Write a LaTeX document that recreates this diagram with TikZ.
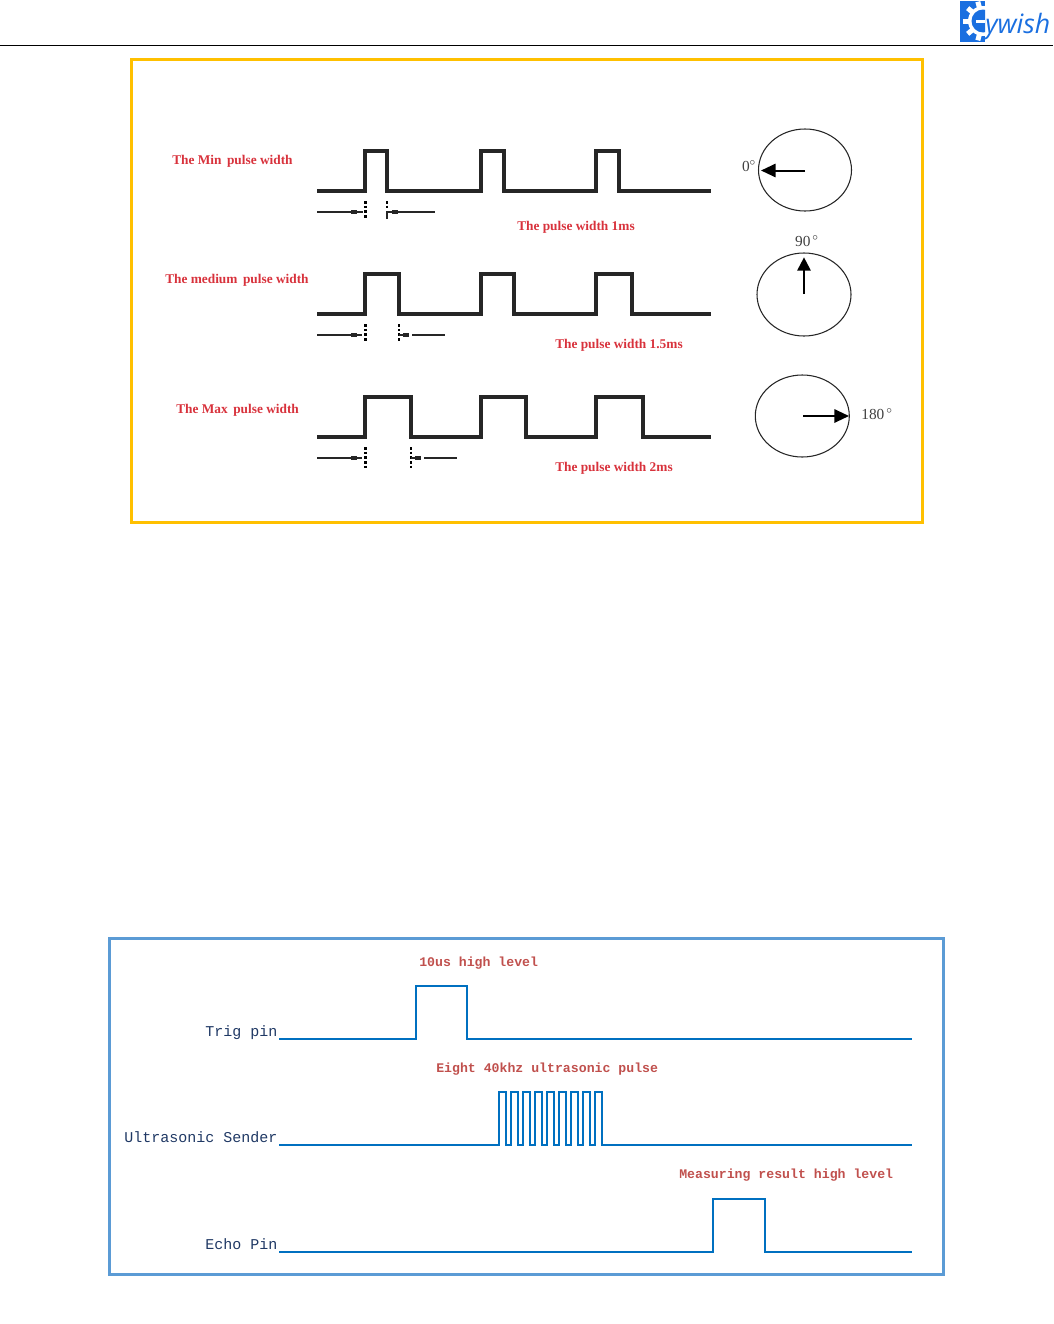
\documentclass[tikz,border=0pt]{standalone}
\usepackage{fontspec}
\usetikzlibrary{arrows.meta}
\setmainfont{Liberation Serif}
\newfontfamily\monof{Liberation Mono}
\newfontfamily\logof{Open Sans}
\definecolor{frameyellow}{HTML}{FFC000}
\definecolor{frameblue}{HTML}{5B9BD5}
\definecolor{wave}{HTML}{0070C0}
\definecolor{redlab}{HTML}{D8323C}
\definecolor{redmono}{HTML}{C0504D}
\definecolor{navy}{HTML}{1F3864}
\definecolor{logoblue}{HTML}{1A6FE0}
\tikzset{
  x=0.75pt,y=-0.75pt,
  yframe/.style={draw=frameyellow,line width=2.25pt},
  bframe/.style={draw=frameblue,line width=2.25pt},
  pulseline/.style={draw=black!85,line width=2.3pt,line join=miter},
  dimline/.style={draw=black!85,line width=1.5pt},
  dimdots/.style={draw=black,line width=2pt,dash pattern=on 2pt off 1.5pt},
  dimsq/.style={fill=black!85,minimum width=5pt,minimum height=3.6pt,inner sep=0pt},
  dial/.style={draw=black!85,line width=0.8pt},
  needle/.style={draw=black,line width=1.5pt,-{Triangle[length=11pt,width=10pt]}},
  needlegap/.style={draw=black,line width=1.5pt,-{Triangle[length=10pt,width=10pt,sep=2.5pt]}},
  sig/.style={draw=wave,line width=1.6pt,line join=miter},
  rlab/.style={anchor=base west,inner sep=0pt,text=redlab,font=\fontsize{10}{11}\selectfont\bfseries},
  rmono/.style={anchor=base west,inner sep=0pt,text=redmono,font=\monof\fontsize{9.9}{11}\selectfont\bfseries},
  nmono/.style={anchor=base west,inner sep=0pt,text=navy,font=\monof\fontsize{11.25}{12}\selectfont},
  deg/.style={inner sep=0pt,text=black!75,font=\fontsize{11.5}{12}\selectfont},
}
\begin{document}
\begin{tikzpicture}
\useasboundingbox (0,0) rectangle (1053,1324);
% header
\coordinate (hl) at (0,45); \coordinate (hr) at (1053,45);
\draw[black,line width=0.6pt] (hl) -- (hr);
% logo
\begin{scope}
\clip (960,1) rectangle (985,42);
\fill[logoblue] (960,1) rectangle (985,42);
\fill[white] (983,21) circle[radius=15];
\foreach \a in {105,140,180,220,255}
  \fill[white,rotate around={\a:(983,21)}] (996,18.5) rectangle (1003,23.5);
\fill[logoblue] (983,21) circle[radius=11.5];
\fill[white] (976,19.5) rectangle (985,22.5);
\end{scope}
\node[anchor=base west,inner sep=0pt,text=logoblue,font=\logof\itshape\fontsize{20}{22}\selectfont] (logo) at (985,33) {ywish};
% frames
\draw[yframe] (131,59) rectangle (922,522);
\draw[bframe] (109,938) rectangle (943,1274);
% row 1
\draw[pulseline] (317,191) -- (365,191) -- (365,151) -- (387,151) -- (387,191) -- (481,191) -- (481,151) -- (504,151) -- (504,191) -- (596,191) -- (596,151) -- (619,151) -- (619,191) -- (711,191);
\draw[dimline] (317,212) -- (363,212);
\node[dimsq] (s1a) at (354,212) {};
\draw[dimdots] (365.5,201) -- (365.5,219);
\draw[dimdots] (387,201) -- (387,210);
\draw[dimline] (387,219) -- (387,212) -- (435,212);
\node[dimsq] (s1b) at (395,212) {};
% row 2
\draw[pulseline] (317,314) -- (365,314) -- (365,274) -- (399,274) -- (399,314) -- (481,314) -- (481,274) -- (514,274) -- (514,314) -- (596,314) -- (596,274) -- (632,274) -- (632,314) -- (711,314);
\draw[dimline] (317,335) -- (362,335);
\node[dimsq] (s2a) at (354,335) {};
\draw[dimdots] (365.5,324) -- (365.5,342);
\draw[dimdots] (399,324) -- (399,342);
\draw[dimline] (399,335) -- (408,335);
\node[dimsq] (s2b) at (406,335) {};
\draw[dimline] (412,335) -- (445,335);
% row 3
\draw[pulseline] (317,437) -- (365,437) -- (365,397) -- (411,397) -- (411,437) -- (481,437) -- (481,397) -- (526,397) -- (526,437) -- (596,437) -- (596,397) -- (643,397) -- (643,437) -- (711,437);
\draw[dimline] (317,458) -- (362,458);
\node[dimsq] (s3a) at (354,458) {};
\draw[dimdots] (365.5,447) -- (365.5,468);
\draw[dimdots] (411,447) -- (411,468);
\draw[dimline] (411,458) -- (420,458);
\node[dimsq] (s3b) at (418,458) {};
\draw[dimline] (424,458) -- (457,458);
% red labels
\node[rlab] (l1) at (172,164) {The Min\, pulse width};
\node[rlab] (l2) at (165,283) {The medium\, pulse width};
\node[rlab] (l3) at (176,413) {The Max\, pulse width};
\node[rlab] (p1) at (517,230) {The pulse width 1ms};
\node[rlab] (p2) at (555,348) {The pulse width 1.5ms};
\node[rlab] (p3) at (555,471) {The pulse width 2ms};
% dials
\draw[dial] (805,170) ellipse[x radius=46.5,y radius=41];
\coordinate (d1c) at (805,170.5); \coordinate (d1t) at (761,170.5);
\draw[needle] (d1c) -- (d1t);
\node[deg] (d1) at (749,166) {0$^{\circ}$};
\draw[dial] (804,294.5) ellipse[x radius=47,y radius=41.5];
\coordinate (d2c) at (804,294); \coordinate (d2t) at (804,254);
\draw[needlegap] (d2c) -- (d2t);
\node[deg] (d2) at (807,241) {90$^{\,\circ}$};
\draw[dial] (802.3,416) ellipse[x radius=47,y radius=41];
\coordinate (d3c) at (803,416); \coordinate (d3t) at (849,416);
\draw[needle] (d3c) -- (d3t);
\node[deg] (d3) at (877,414) {180$^{\,\circ}$};
% timing
\draw[sig] (279,1039) -- (416,1039) -- (416,986) -- (467,986) -- (467,1039) -- (912,1039);
\draw[sig] (279,1145) -- (499,1145)
  \foreach \i in {0,...,8} { -- ({499+12.05*\i},1092) -- ({505.8+12.05*\i},1092) -- ({505.8+12.05*\i},1145) \ifnum\i<8 -- ({511.05+12.05*\i},1145)\fi }
  -- (912,1145);
\draw[sig] (279,1252) -- (713,1252) -- (713,1199) -- (765,1199) -- (765,1252) -- (912,1252);
\node[rmono] (t1) at (419,966) {10us high level};
\node[rmono] (t2) at (436,1072) {Eight 40khz ultrasonic pulse};
\node[rmono] (t3) at (679,1178) {Measuring result high level};
\node[nmono] (n1) at (205,1036) {Trig pin};
\node[nmono] (n2) at (124,1142) {Ultrasonic Sender};
\node[nmono] (n3) at (205,1249) {Echo Pin};
\end{tikzpicture}
\end{document}
